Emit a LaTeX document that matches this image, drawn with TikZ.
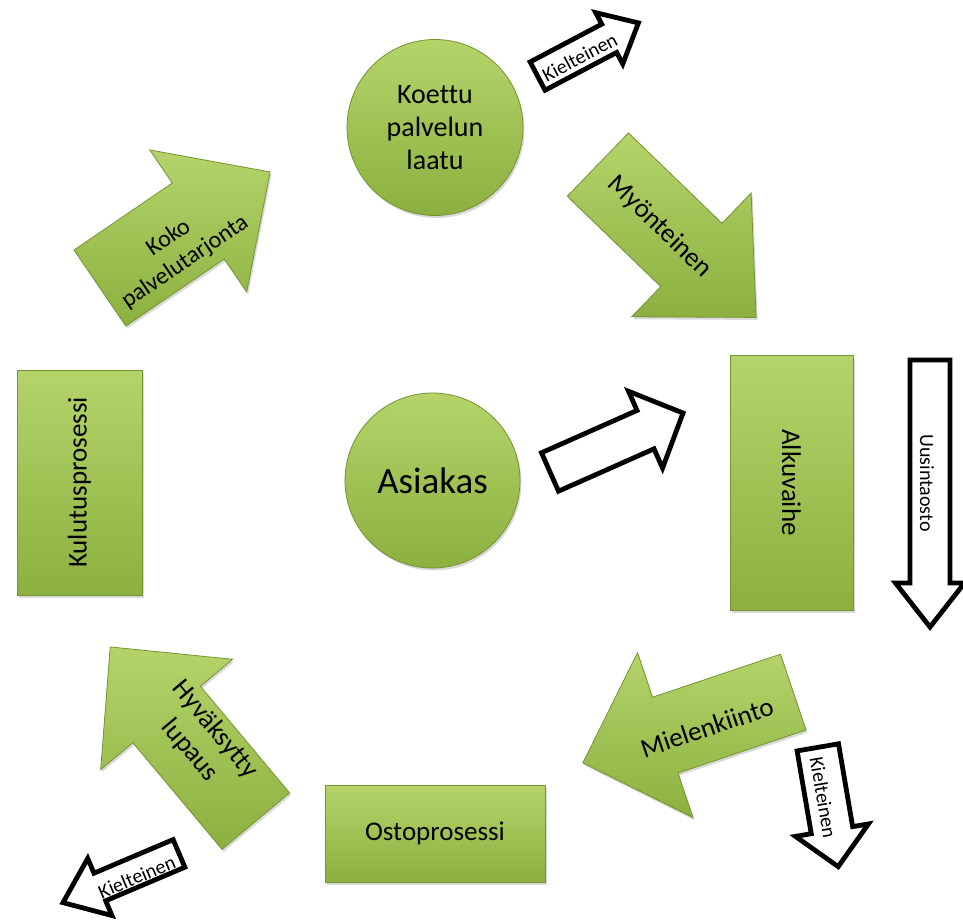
\documentclass[tikz,border=0pt]{standalone}
\usepackage{fontspec}
\setmainfont{Carlito}[Ligatures=NoCommon]
\usetikzlibrary{shadows}

\definecolor{greenlight}{RGB}{180,212,106}
\definecolor{greendark}{RGB}{140,176,64}
\definecolor{greenedge}{RGB}{116,148,50}
\newcommand\bigfont{\fontsize{27}{33}\selectfont}
\newcommand\smallfont{\fontsize{20}{24}\selectfont}

\tikzset{
  greenfill/.style={top color=greenlight, bottom color=greendark, draw=greenedge, line width=0.8pt,
    drop shadow={opacity=0.3, shadow xshift=1.5pt, shadow yshift=-2.5pt}},
  greenbox/.style={greenfill, rectangle, inner sep=0pt, font=\bigfont},
  greencircle/.style={greenfill, circle, inner sep=0pt, align=center, font=\bigfont},
  hollow/.style={draw=black, fill=white, line width=4.8pt, line join=miter},
  arrowtext/.style={font=\bigfont, align=center, inner sep=0pt},
  smalltext/.style={font=\smallfont, inner sep=0pt},
}

\begin{document}
\begin{tikzpicture}[x=1pt,y=-1pt]
\useasboundingbox (0,0) rectangle (963,919);

% circles and boxes
\node[greencircle, minimum size=176, font=\fontsize{28}{33}\selectfont] (laatu) at (435,127.5) {Koettu\\palvelun\\laatu};
\node[greencircle, minimum size=175, font=\fontsize{37}{44}\selectfont] (asiakas) at (432.5,480.5) {Asiakas};
\node[greenbox, rotate=90, minimum width=225, minimum height=125] (kulutus) at (79.5,482.5) {Kulutusprosessi};
\node[greenbox, rotate=-90, minimum width=255, minimum height=123] (alku) at (791.5,482.5) {Alkuvaihe};
\node[greenbox, minimum width=220, minimum height=97] (osto) at (435,833.5) {Ostoprosessi};

% green arrows
\begin{scope}[shift={(185,230)}, rotate=34.3]
\path[greenfill] (-103,-46) -- (16,-46) -- (16,-86) -- (103,0) -- (16,86) -- (16,46) -- (-103,46) -- cycle;
\node[arrowtext, rotate=34.3, font=\fontsize{24}{29}\selectfont] (tarjonta) at (-18,12) {Koko\\palvelutarjonta};
\end{scope}
\begin{scope}[shift={(677,241)}, rotate=-44]
\path[greenfill] (-110,-44) -- (20,-44) -- (20,-86) -- (110,0) -- (20,86) -- (20,44) -- (-110,44) -- cycle;
\node[arrowtext, rotate=-44] (myont) at (-22,2) {Myönteinen};
\end{scope}
\begin{scope}[shift={(688,727.5)}, rotate=198.6]
\path[greenfill] (-111,-40) -- (24,-40) -- (24,-87) -- (111,0) -- (24,87) -- (24,40) -- (-111,40) -- cycle;
\node[arrowtext, rotate=18.6] (kiinto) at (-18,-6) {Mielenkiinto};
\end{scope}
\begin{scope}[shift={(183,734)}, rotate=129.9]
\path[greenfill] (-113.5,-44) -- (25.5,-44) -- (25.5,-86) -- (113.5,0) -- (25.5,86) -- (25.5,44) -- (-113.5,44) -- cycle;
\node[arrowtext, rotate=-50.1] (lupaus) at (-17,11) {Hyväksytty\\lupaus};
\end{scope}

% white arrows
\begin{scope}[shift={(616.5,442.5)}, rotate=23.9]
\path[hollow] (-72.75,-21) -- (31.75,-21) -- (31.75,-42) -- (72.75,0) -- (31.75,42) -- (31.75,21) -- (-72.75,21) -- cycle;
\end{scope}
\begin{scope}[shift={(930,493.5)}, rotate=-90]
\path[hollow] (-133.5,-20) -- (89.5,-20) -- (89.5,-34.5) -- (133.5,0) -- (89.5,34.5) -- (89.5,20) -- (-133.5,20) -- cycle;
\node[smalltext, rotate=-90] (uusinta) at (-10.5,3) {Uusintaosto};
\end{scope}
\begin{scope}[shift={(588,49.5)}, rotate=27.8]
\path[hollow] (-57,-16) -- (24,-16) -- (24,-29) -- (57,0) -- (24,29) -- (24,16) -- (-57,16) -- cycle;
\node[smalltext, rotate=27.8] (kielt1) at (-11,3) {Kielteinen};
\end{scope}
\begin{scope}[shift={(828,807)}, rotate=-80.3]
\path[hollow] (-60.5,-21) -- (23.5,-21) -- (23.5,-37) -- (60.5,0) -- (23.5,37) -- (23.5,21) -- (-60.5,21) -- cycle;
\node[smalltext, rotate=-80.3] (kielt2) at (-10,3) {Kielteinen};
\end{scope}
\begin{scope}[shift={(121,878)}, rotate=203]
\path[hollow] (-63,-15) -- (23,-15) -- (23,-31) -- (63,0) -- (23,31) -- (23,15) -- (-63,15) -- cycle;
\node[smalltext, rotate=23] (kielt3) at (-15,-5) {Kielteinen};
\end{scope}

\end{tikzpicture}
\end{document}
